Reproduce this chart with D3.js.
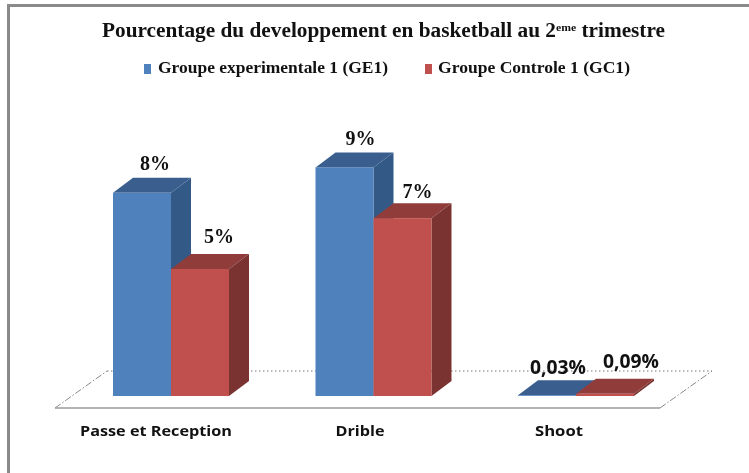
<!DOCTYPE html>
<html><head><meta charset="utf-8">
<script src="https://cdn.jsdelivr.net/npm/d3@7"></script>
<style>html,body{margin:0;padding:0;background:#fff}svg{display:block;filter:blur(0.4px)}</style>
</head><body><svg id="c" width="749" height="473"></svg>
<script>
const categories = ["Passe et Reception", "Drible", "Shoot"];
const seriesNames = ["Groupe experimentale 1 (GE1)", "Groupe Controle 1 (GC1)"];
const ge1 = [8, 9, 0.03];
const gc1 = [5, 7, 0.09];
const ge1Labels = ["8%", "9%", "0,03%"];
const gc1Labels = ["5%", "7%", "0,09%"];

const svg = d3.select("#c");
const depthX = 20, depthY = 15;
const base = 396;
const y = d3.scaleLinear().domain([0, 10]).range([base, base - 254]);
const barW = 58;
const groupLeft = d3.scaleOrdinal().domain(categories).range([113, 315.5, 518]);
const ink = "#111";

// frame
svg.append("path").attr("d","M8.5,473V5.5H749").attr("fill","none").attr("stroke","#8a8a8a").attr("stroke-width",3);

// title
svg.append("text").attr("x",383.5).attr("y",37).attr("text-anchor","middle")
  .attr("font-family","Liberation Serif").attr("font-weight","bold").attr("font-size",20)
  .attr("fill",ink).attr("textLength",563).attr("lengthAdjust","spacingAndGlyphs")
  .html('Pourcentage du developpement en basketball au 2<tspan dy="-6" font-size="11">eme</tspan><tspan dy="6"> trimestre</tspan>');

// legend
const legendX = [144, 425], legendTextX = [158, 438], legendLen = [230, 192];
const colors = {front:["#4f81bd","#c0504d"], top:["#3a5f8e","#8f3c3a"], side:["#335a87","#7a3331"]};
seriesNames.forEach((n,i)=>{
  svg.append("rect").attr("x",legendX[i]).attr("y",64).attr("width",7).attr("height",10).attr("fill",colors.front[i]);
  svg.append("text").attr("x",legendTextX[i]).attr("y",73).attr("font-family","Liberation Serif")
    .attr("font-weight","bold").attr("font-size",16).attr("fill",ink)
    .attr("textLength",legendLen[i]).attr("lengthAdjust","spacingAndGlyphs").text(n);
});

// floor
const fL=55, fR=660, fy=408, bL=107, bR=712, by=371;
svg.append("line").attr("x1",bL).attr("x2",bR).attr("y1",by).attr("y2",by)
  .attr("stroke","#777").attr("stroke-width",1).attr("stroke-dasharray","1.5 2.5");
svg.append("path").attr("d",`M${fL},${fy}L${bL},${by}`).attr("stroke","#888").attr("fill","none").attr("stroke-dasharray","7 2 1.5 2");
svg.append("path").attr("d",`M${fR},${fy}L${bR},${by}`).attr("stroke","#888").attr("fill","none").attr("stroke-dasharray","7 2 1.5 2");
svg.append("line").attr("x1",fL).attr("x2",fR).attr("y1",fy).attr("y2",fy).attr("stroke","#9a9a9a").attr("stroke-width",1.6);

// bars
function bar3d(left, v, s){
  const t = y(v), r = left + barW;
  const g = svg.append("g");
  g.append("path").attr("d",`M${left},${t}l${depthX},${-depthY}h${barW}l${-depthX},${depthY}Z`).attr("fill",colors.top[s]);
  g.append("path").attr("d",`M${r},${t}l${depthX},${-depthY}V${base-depthY}l${-depthX},${depthY}Z`).attr("fill",colors.side[s]);
  g.append("rect").attr("x",left).attr("y",t).attr("width",barW).attr("height",base-t).attr("fill",colors.front[s]);
}
categories.forEach((c,i)=>{
  const l = groupLeft(c);
  bar3d(l, ge1[i], 0);
  bar3d(l + barW, gc1[i], 1);
});

// value labels
const nudgeBlue = [[13,-8],[16,-7],[11,-6]], nudgeRed = [[19,-11],[15,-5],[26,-11]];
function valLabel(left, v, txt, nudge, small){
  const t = svg.append("text").attr("x",left + barW/2 + nudge[0]).attr("y",y(v)-depthY+nudge[1])
    .attr("text-anchor","middle").attr("fill",ink).text(txt);
  if (small) {
    t.attr("font-family","Open Sans").attr("font-weight","700").attr("font-size",19)
     .attr("textLength",56).attr("lengthAdjust","spacingAndGlyphs");
  } else {
    t.attr("font-family","Liberation Serif").attr("font-weight","bold").attr("font-size",20);
  }
}
categories.forEach((c,i)=>{
  const l = groupLeft(c);
  valLabel(l, ge1[i], ge1Labels[i], nudgeBlue[i], i===2);
  valLabel(l+barW, gc1[i], gc1Labels[i], nudgeRed[i], i===2);
});

// category labels
const labelX = [156, 360, 559], labelLen=[152,49,48];
categories.forEach((c,i)=>{
  svg.append("text").attr("x",labelX[i]).attr("y",436).attr("text-anchor","middle")
    .attr("font-family","Open Sans").attr("font-weight","700").attr("font-size",15).attr("fill",ink)
    .attr("textLength",labelLen[i]).attr("lengthAdjust","spacingAndGlyphs").text(c);
});
</script></body></html>
